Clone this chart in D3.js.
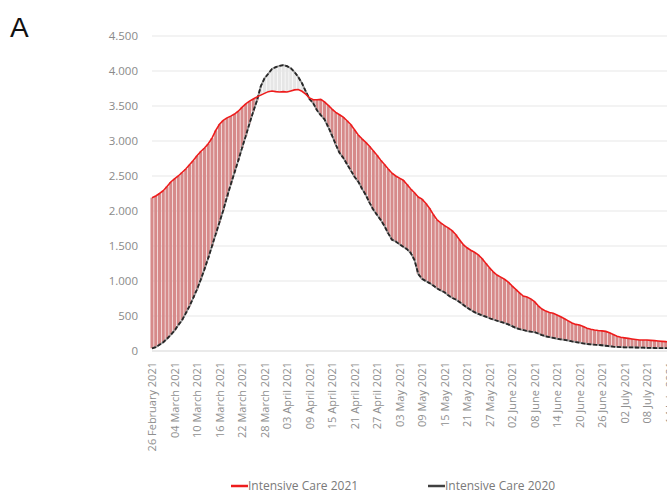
<!DOCTYPE html>
<html>
<head>
<meta charset="utf-8">
<script src="https://cdn.jsdelivr.net/npm/d3@7"></script>
<style>
  body { margin: 0; background: #fff; }
  svg { display: block; font-family: "Open Sans", sans-serif; }
</style>
</head>
<body>
<div id="chart-area"></div>
<script>
// daily values starting 26 February 2021
var startDate = new Date(2021, 1, 26);
var seriesNames = ['Intensive Care 2021', 'Intensive Care 2020'];
var care2021 = [
  2190, 2215, 2250, 2290, 2350, 2415, 2460, 2500, 2550, 2600,
  2660, 2720, 2790, 2850, 2900, 2960, 3040, 3150, 3240, 3295,
  3330, 3355, 3385, 3425, 3480, 3530, 3570, 3600, 3630, 3655,
  3680, 3705, 3715, 3705, 3700, 3705, 3700, 3715, 3730, 3735,
  3710, 3670, 3615, 3590, 3590, 3595, 3560, 3510, 3455, 3410,
  3375, 3340, 3290, 3235, 3160, 3085, 3030, 2980, 2925, 2860,
  2795, 2725, 2665, 2600, 2540, 2500, 2470, 2440, 2380, 2315,
  2260, 2200, 2170, 2110, 2040, 1950, 1875, 1830, 1790, 1760,
  1720, 1665, 1590, 1520, 1475, 1440, 1410, 1375, 1320, 1255,
  1190, 1130, 1085, 1055, 1025, 985, 930, 880, 830, 785,
  770, 745, 705, 645, 600, 570, 550, 538, 515, 490,
  460, 430, 400, 380, 372, 350, 325, 310, 300, 292,
  288, 280, 260, 235, 210, 196, 188, 180, 172, 165,
  158, 157, 157, 152, 148, 143, 138, 134, 131, 128, 125
];
var care2020 = [
  39, 55, 90, 125, 175, 230, 290, 370, 440, 540,
  640, 760, 880, 1020, 1170, 1330, 1500, 1670, 1840, 2010,
  2200, 2380, 2550, 2720, 2900, 3070, 3250, 3420, 3580, 3780,
  3895, 3960, 4030, 4055, 4075, 4085, 4070, 4040, 3985, 3915,
  3825, 3710, 3600, 3540, 3440, 3370, 3310, 3200, 3080, 2950,
  2830, 2760, 2670, 2580, 2490, 2420, 2320, 2230, 2120, 2020,
  1945, 1870, 1785, 1680, 1590, 1565, 1525, 1490, 1455, 1400,
  1300, 1100, 1030, 1000, 970, 935, 895, 865, 840, 795,
  760, 735, 700, 660, 620, 585, 555, 530, 510, 490,
  468, 450, 432, 415, 400, 380, 355, 330, 312, 300,
  285, 276, 270, 250, 228, 210, 198, 188, 175, 167,
  160, 150, 138, 128, 118, 108, 100, 95, 90, 87,
  82, 75, 68, 62, 58, 55, 53, 52, 51, 50,
  48, 47, 46, 45, 43, 42, 41, 40, 39, 38, 38
];
var yTicks = [0, 500, 1000, 1500, 2000, 2500, 3000, 3500, 4000, 4500];
var tickEvery = 6; // days between x labels

var width = 667, height = 493;

var data = care2021.map(function (v, i) {
  return { date: d3.timeDay.offset(startDate, i), a: v, b: care2020[i] };
});

var svg = d3.select('#chart-area').append('svg')
    .attr('width', width)
    .attr('height', height);

var x = d3.scaleTime()
    .domain([startDate, d3.timeDay.offset(startDate, data.length - 1)])
    .range([152, 152 + 3.75 * (data.length - 1)]);

var y = d3.scaleLinear()
    .domain([0, 4500])
    .range([351, 36]);

var locale = d3.formatLocale({ decimal: ',', thousands: '.', grouping: [3], currency: ['', '€'] });
var fmt = locale.format(',');

// panel letter
svg.append('text')
    .attr('x', 10)
    .attr('y', 37)
    .attr('style', 'font-size: 28px; font-family: "Liberation Sans", Arial, sans-serif')
    .attr('fill', '#111')
    .text('A');

// gridlines
svg.append('g').selectAll('line')
    .data(yTicks)
    .enter().append('line')
    .attr('x1', 152)
    .attr('x2', width)
    .attr('y1', d => y(d))
    .attr('y2', d => y(d))
    .attr('stroke', d => d === 0 ? '#d6d6d6' : '#e8e8e8')
    .attr('stroke-width', 1.2);

// y axis labels
var yAxis = svg.append('g')
    .attr('transform', 'translate(138,0)')
    .call(d3.axisLeft(y).tickValues(yTicks).tickSize(0).tickPadding(0).tickFormat(fmt));
yAxis.select('.domain').remove();
yAxis.selectAll('text')
    .attr('fill', '#8a8a8a')
    .attr('style', 'font-size: 11.5px; font-family: "Open Sans", sans-serif');

// x axis labels (last one runs off the right edge, as in the source)
var xTickDates = data.filter((d, i) => i % tickEvery === 0).map(d => d.date);
var xAxis = svg.append('g')
    .attr('transform', 'translate(0,351)')
    .call(d3.axisBottom(x).tickValues(xTickDates).tickSize(0).tickFormat(d3.timeFormat('%d %B %Y')));
xAxis.select('.domain').remove();
xAxis.selectAll('text')
    .attr('fill', '#8f8f8f')
    .attr('style', 'font-size: 11px; font-family: "Open Sans", sans-serif')
    .attr('text-anchor', 'end')
    .attr('transform', 'rotate(-90)')
    .attr('x', -11)
    .attr('y', 0)
    .attr('dy', '0.35em');

// high-low lines between the two years
svg.append('g').selectAll('line')
    .data(data)
    .enter().append('line')
    .attr('x1', d => x(d.date))
    .attr('x2', d => x(d.date))
    .attr('y1', d => y(d.a))
    .attr('y2', d => y(d.b))
    .attr('stroke', d => d.a >= d.b ? '#d68a8a' : '#e6e6e6')
    .attr('stroke-width', 3.1);

var line2021 = d3.line().x(d => x(d.date)).y(d => y(d.a));
var line2020 = d3.line().x(d => x(d.date)).y(d => y(d.b));

svg.append('path')
    .datum(data)
    .attr('d', line2020)
    .attr('fill', 'none')
    .attr('stroke', '#9a9a9a')
    .attr('stroke-width', 1.8);
svg.append('path')
    .datum(data)
    .attr('d', line2020)
    .attr('fill', 'none')
    .attr('stroke', '#262626')
    .attr('stroke-width', 1.8)
    .attr('stroke-dasharray', '4,2');

svg.append('path')
    .datum(data)
    .attr('d', line2021)
    .attr('fill', 'none')
    .attr('stroke', '#ee1c1c')
    .attr('stroke-width', 1.6);

// legend
var legend = svg.append('g').attr('transform', 'translate(0,486)');
var legendItems = [
  { name: seriesNames[0], color: '#ee1c1c', x: 231 },
  { name: seriesNames[1], color: '#404040', x: 428 }
];
legendItems.forEach(function (it) {
  legend.append('line')
      .attr('x1', it.x).attr('x2', it.x + 17)
      .attr('y1', 0).attr('y2', 0)
      .attr('stroke', it.color)
      .attr('stroke-width', 2.5);
  legend.append('text')
      .attr('x', it.x + 17)
      .attr('y', 0)
      .attr('dy', '0.35em')
      .attr('fill', '#7a7a7a')
      .attr('style', 'font-size: 12px; font-family: "Open Sans", sans-serif')
      .text(it.name);
});
</script>
</body>
</html>
